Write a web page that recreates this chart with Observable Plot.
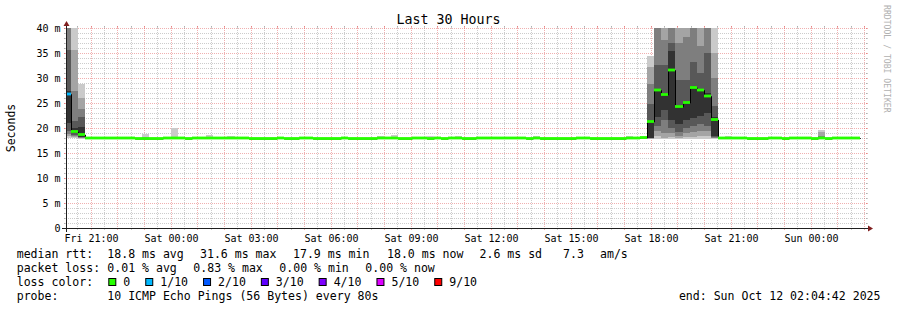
<!DOCTYPE html>
<html>
<head>
<meta charset="utf-8">
<script src="https://cdn.jsdelivr.net/npm/d3@7"></script>
<script src="https://cdn.jsdelivr.net/npm/@observablehq/plot@0.6"></script>
<style>
  html, body { margin: 0; padding: 0; background: #fff; }
  svg { display: block; }
</style>
</head>
<body>
<div id="chart"></div>
<script>
// ---------------- data ----------------
const titleText = "Last 30 Hours";
const yLabelText = "Seconds";
const watermarkText = "RRDTOOL / TOBI OETIKER";
const startTime = new Date("2025-10-10T20:04:42Z");
const endTime = new Date("2025-10-12T02:04:42Z");
const firstBinStart = new Date("2025-10-10T20:00:00Z");
const binMinutes = 16;

// median RTT per 16-minute bin (ms)
const medians = [
  26.8, 19.3, 18.7, 18.0, 18.0, 18.0, 18.0, 18.0, 18.0, 18.0, 17.9, 17.9, 17.9, 17.9, 18.0, 18.0,
  18.0, 17.9, 18.0, 18.0, 18.0, 18.0, 18.0, 18.0, 18.0, 18.0, 17.9, 17.9, 17.9, 17.9, 18.0, 17.9,
  17.9, 18.0, 18.0, 17.9, 17.9, 17.9, 17.9, 18.0, 17.9, 17.9, 17.9, 17.9, 18.0, 18.0, 18.0, 17.9,
  17.9, 18.0, 18.0, 17.9, 18.0, 17.9, 18.0, 18.0, 17.9, 17.9, 18.0, 18.0, 18.0, 18.0, 18.0, 18.0,
  18.0, 17.9, 18.0, 17.9, 17.9, 17.9, 17.9, 17.9, 18.0, 18.0, 17.9, 17.9, 17.9, 17.9, 17.9, 18.0,
  18.0, 18.1, 21.3, 27.6, 26.7, 31.6, 24.3, 25.1, 28.1, 27.6, 26.4, 21.7, 18.0, 18.0, 18.0, 18.0,
  17.9, 17.9, 17.9, 18.0, 18.0, 17.9, 18.0, 18.0, 18.0, 17.9, 18.0, 17.9, 18.0, 18.0, 18.0, 18.0
];

// bins with packet loss (in tenths)
const lossBins = [0];
const lossTenths = [1];

// bins whose smoke shows beyond the median band, with 10 sorted ping RTTs (ms)
const smokeBins = [0, 1, 2, 11, 15, 20, 23, 44, 46, 51, 55, 66, 79,
                   82, 83, 84, 85, 86, 87, 88, 89, 90, 91, 93, 106];
const smokePings = [
  [18.0, 18.4, 18.8, 19.5, 21.0, 27.5, 35.7, 45.0, 50.0, 60.0],
  [18.0, 18.2, 18.4, 18.7, 19.0, 20.0, 21.5, 27.5, 35.7, 48.0],
  [17.9, 18.0, 18.1, 18.2, 18.3, 20.2, 22.3, 23.9, 26.0, 28.9],
  [17.9, 17.9, 17.9, 18.0, 18.0, 18.0, 18.0, 18.1, 18.2, 18.8],
  [17.9, 17.9, 18.0, 18.0, 18.0, 18.0, 18.1, 18.1, 18.2, 20.0],
  [17.9, 17.9, 18.0, 18.0, 18.0, 18.0, 18.0, 18.1, 18.2, 18.7],
  [17.9, 17.9, 18.0, 18.0, 18.0, 18.0, 18.0, 18.1, 18.1, 18.5],
  [17.9, 17.9, 18.0, 18.0, 18.0, 18.0, 18.0, 18.1, 18.1, 18.5],
  [17.9, 17.9, 18.0, 18.0, 18.0, 18.0, 18.0, 18.1, 18.2, 18.6],
  [17.8, 17.8, 17.9, 17.9, 17.9, 17.9, 18.0, 18.0, 18.1, 18.5],
  [17.9, 17.9, 18.0, 18.0, 18.0, 18.0, 18.0, 18.1, 18.1, 18.5],
  [17.9, 17.9, 18.0, 18.0, 18.0, 18.0, 18.0, 18.1, 18.2, 18.5],
  [17.9, 17.9, 18.0, 18.0, 18.0, 18.0, 18.0, 18.1, 18.1, 18.5],
  [17.8, 17.9, 17.95, 18.0, 18.05, 21.6, 24.9, 28.9, 32.3, 34.5],
  [17.9, 18.5, 19.5, 20.5, 22.3, 27.9, 32.6, 45.0, 55.0, 70.0],
  [17.9, 18.1, 19.0, 21.6, 23.6, 27.0, 32.6, 37.6, 45.0, 60.0],
  [17.9, 18.3, 19.0, 20.0, 21.6, 35.4, 37.0, 45.0, 55.0, 70.0],
  [17.9, 18.1, 18.5, 19.3, 20.9, 24.6, 29.6, 37.0, 45.0, 60.0],
  [17.9, 18.2, 19.0, 20.0, 21.6, 25.3, 29.6, 38.3, 45.0, 60.0],
  [17.9, 18.3, 19.2, 20.5, 22.0, 28.4, 33.3, 45.0, 55.0, 70.0],
  [17.9, 18.5, 19.5, 20.8, 22.5, 27.8, 31.0, 36.5, 45.0, 60.0],
  [17.9, 18.4, 19.4, 20.5, 23.0, 27.0, 35.0, 45.0, 55.0, 70.0],
  [17.9, 18.0, 18.1, 18.2, 18.4, 22.2, 24.5, 30.0, 35.0, 50.0],
  [17.9, 17.9, 18.0, 18.0, 18.0, 18.0, 18.0, 18.1, 18.1, 18.5],
  [17.9, 17.9, 18.0, 18.0, 18.0, 18.0, 18.1, 18.4, 19.2, 19.6]
];

const yTicks = [0, 5, 10, 15, 20, 25, 30, 35, 40];
const lossSteps = [0, 1, 2, 3, 4, 5, 9];
const lossLabels = ["0", "1/10", "2/10", "3/10", "4/10", "5/10", "9/10"];
const lossColors = ["#26ff00", "#00b8ff", "#0059ff", "#5e00ff", "#7e00ff", "#dd00ff", "#ff0000"];
const smokeShades = ["#cacaca", "#a4a4a4", "#7e7e7e", "#585858", "#323232"];

const rttLabel = "median rtt:";
const rttStats = ["18.8 ms avg", "31.6 ms max", "17.9 ms min", "18.0 ms now", "2.6 ms sd", "7.3", "am/s"];
const lossLabel = "packet loss:";
const lossStats = ["0.01 % avg", "0.83 % max", "0.00 % min", "0.00 % now"];
const lossColorLabel = "loss color:";
const probeLabel = "probe:";
const probeText = "10 ICMP Echo Pings (56 Bytes) every 80s";
const endText = "end: Sun Oct 12 02:04:42 2025";

// ---------------- derived tables ----------------
const binMs = binMinutes * 60000;
const lossColorFor = l => lossColors[Math.max(0, lossSteps.filter(s => s <= l).length - 1)];
const bins = medians.map((m, i) => {
  const j = lossBins.indexOf(i);
  return {
    start: new Date(+firstBinStart + i * binMs),
    end: new Date(+firstBinStart + (i + 1) * binMs),
    median: m,
    loss: j < 0 ? 0 : lossTenths[j]
  };
});
const smoke = smokeBins.flatMap((b, j) =>
  d3.range(5).map(k => ({
    start: bins[b].start, end: bins[b].end,
    lo: smokePings[j][k], hi: smokePings[j][9 - k], shade: k
  }))
);
const stepPoints = bins.map(b => ({t: b.start, m: b.median}))
  .concat([{t: bins[bins.length - 1].end, m: bins[bins.length - 1].median}]);

const hourly = d3.utcHour.range(startTime, endTime);
const halfHours = d3.utcMinute.every(30).range(startTime, endTime).filter(d => d.getUTCMinutes() === 30);
const labelTimes = d3.utcHour.every(3).range(startTime, endTime);
const yMajor = d3.range(0, 41, 5);
const yMinor = d3.range(1, 40).filter(v => v % 5 !== 0);

const gridColor = "rgba(143,143,143,0.45)";
const mgridColor = "rgba(222,79,79,0.45)";
const axisColor = "#1f1f1f";
const mono = "'DejaVu Sans Mono', monospace";

// ---------------- plot ----------------
const chart = Plot.plot({
  width: 897,
  height: 310,
  marginLeft: 66,
  marginRight: 31,
  marginTop: 28,
  marginBottom: 82,
  x: {type: "utc", domain: [startTime, endTime], round: true},
  y: {domain: [0, 40]},
  style: {fontFamily: mono, fontSize: "10px", background: "#fff", color: "#000"},
  marks: [
    // minor grid
    Plot.ruleY(yMinor, {stroke: gridColor, strokeDasharray: "1,1", insetLeft: -2, insetRight: -2}),
    Plot.ruleX(halfHours, {stroke: gridColor, strokeDasharray: "1,1", insetTop: -2, insetBottom: -2}),
    Plot.ruleY(yMinor, {x1: startTime, x2: startTime, stroke: gridColor, insetLeft: -2}),
    Plot.ruleY(yMinor, {x1: endTime, x2: endTime, stroke: gridColor, insetRight: -2}),
    Plot.ruleX(halfHours, {y1: 0, y2: 0, stroke: gridColor, insetBottom: -2}),
    Plot.ruleX(halfHours, {y1: 40, y2: 40, stroke: gridColor, insetTop: -2}),
    // major grid
    Plot.ruleY(yMajor, {stroke: mgridColor, strokeDasharray: "1,1", insetLeft: -2, insetRight: -2}),
    Plot.ruleX(hourly, {stroke: mgridColor, strokeDasharray: "1,1", insetTop: -2, insetBottom: -2}),
    Plot.ruleY(yMajor, {x1: startTime, x2: startTime, stroke: mgridColor, insetLeft: -2}),
    Plot.ruleY(yMajor, {x1: endTime, x2: endTime, stroke: mgridColor, insetRight: -2}),
    Plot.ruleX(hourly, {y1: 0, y2: 0, stroke: mgridColor, insetBottom: -2}),
    Plot.ruleX(hourly, {y1: 40, y2: 40, stroke: mgridColor, insetTop: -2}),
    // smoke
    Plot.rect(smoke, {x1: "start", x2: "end", y1: "lo", y2: "hi",
      fill: d => smokeShades[d.shade], clip: true, shapeRendering: "crispEdges"}),
    // median connecting line
    Plot.line(stepPoints, {x: "t", y: "m", curve: "step-after", stroke: "#000", strokeWidth: 1, clip: true}),
    // median band coloured by loss
    Plot.rect(bins, {x1: "start", x2: "end", y1: d => d.median - 0.28, y2: d => d.median + 0.28,
      fill: d => lossColorFor(d.loss), clip: true}),
    // axes
    Plot.ruleY([0], {stroke: axisColor, insetLeft: -4, insetRight: -4}),
    Plot.ruleX([startTime], {stroke: axisColor, insetTop: -4, insetBottom: -4}),
    Plot.axisY({ticks: yTicks, tickSize: 0, tickPadding: 6,
      tickFormat: d => d === 0 ? "0" : `${d} m`, label: null, fontSize: 10}),
    Plot.axisX({ticks: labelTimes, tickSize: 0, tickPadding: 6,
      tickFormat: d3.utcFormat("%a %H:%M"), label: null, fontSize: 10})
  ]
});
document.getElementById("chart").appendChild(chart);

// ---------------- decorations & legend ----------------
const svg = d3.select(chart);
const xs = chart.scale("x");
const ys = chart.scale("y");
const x0 = xs.apply(startTime) + 0.5;
const x1 = xs.apply(endTime);
const y0 = ys.apply(0) + 0.5;
const yTop = ys.apply(40);
const arrowColor = "#801f1f";
svg.append("path").attr("d", `M${x1 + 2},${y0 - 3}L${x1 + 2},${y0 + 3}L${x1 + 7},${y0}Z`).attr("fill", arrowColor);
svg.append("path").attr("d", `M${x0 - 3},${yTop - 2}L${x0 + 3},${yTop - 2}L${x0},${yTop - 7}Z`).attr("fill", arrowColor);

svg.append("text").attr("x", 448.5).attr("y", 24).attr("text-anchor", "middle")
  .attr("font-size", "13.3px").attr("fill", "#000").text(titleText);
svg.append("text").attr("transform", "translate(15,128) rotate(-90)").attr("text-anchor", "middle")
  .attr("font-size", "11.5px").attr("fill", "#000").text(yLabelText);
svg.append("text").attr("transform", "translate(884,5) rotate(90)").attr("text-anchor", "start")
  .attr("font-size", "8.15px").attr("fill", "#b0b0b0").text(watermarkText);

const legendFont = "11.55px";
const cw = 6.95;
const labelX = 16.7, valueX = 107.3;
const rowY = [258, 272, 286, 300];
function txt(x, y, s, anchor) {
  svg.append("text").attr("x", x).attr("y", y).attr("font-size", legendFont)
    .attr("fill", "#000").attr("text-anchor", anchor || "start")
    .attr("xml:space", "preserve").text(s);
}
txt(labelX, rowY[0], rttLabel);
const rttX = [107.3, 200, 293, 387, 479.5, 563, 600];
rttStats.forEach((s, i) => txt(rttX[i], rowY[0], s));
txt(labelX, rowY[1], lossLabel);
lossStats.forEach((s, i) => txt(valueX + i * 86, rowY[1], s));
txt(labelX, rowY[2], lossColorLabel);
let bx = 108.3;
lossLabels.forEach((s, i) => {
  svg.append("rect").attr("x", bx + 0.5).attr("y", rowY[2] - 7.5).attr("width", 7).attr("height", 7)
    .attr("fill", lossColors[i]).attr("stroke", "#000").attr("stroke-width", 1);
  txt(bx + 15, rowY[2], s);
  bx = bx + 15 + s.length * cw + 15;
});
txt(labelX, rowY[3], probeLabel);
txt(valueX, rowY[3], probeText);
txt(880.5, rowY[3], endText, "end");
</script>
</body>
</html>
